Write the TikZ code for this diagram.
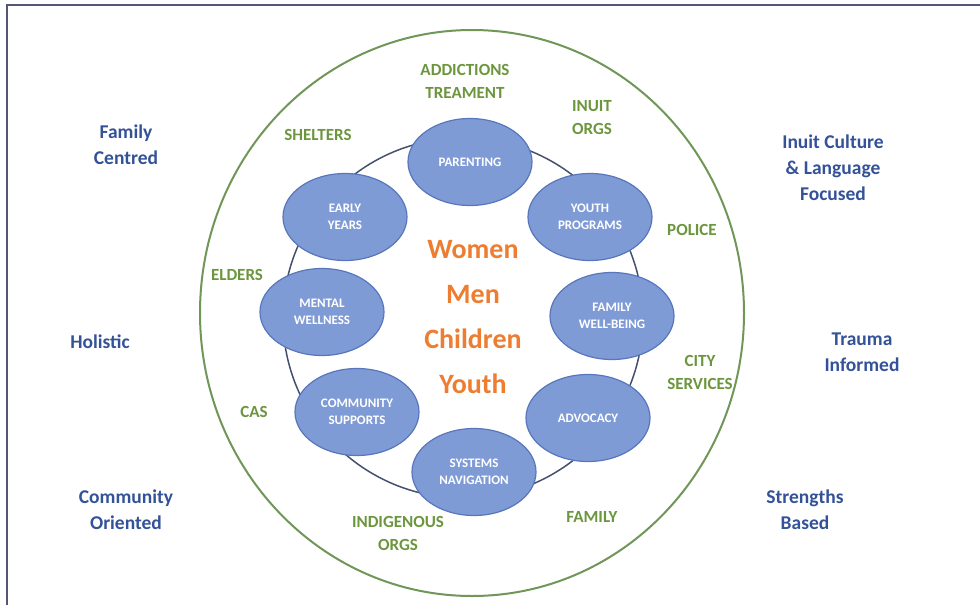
\documentclass[tikz,border=0pt]{standalone}
\usepackage{fontspec}
\setmainfont{Carlito}
\usetikzlibrary{shapes.geometric}
\definecolor{framecol}{RGB}{85,85,120}
\definecolor{partnergreen}{RGB}{108,150,62}
\definecolor{ringgreen}{RGB}{112,150,88}
\definecolor{ringblue}{RGB}{68,80,110}
\definecolor{ovalfill}{RGB}{127,155,214}
\definecolor{ovaledge}{RGB}{88,118,188}
\definecolor{valueblue}{RGB}{52,82,152}
\definecolor{peopleorange}{RGB}{237,125,49}
\begin{document}
\begin{tikzpicture}[x=1pt,y=-1pt,
  service/.style={ellipse, draw=ovaledge, line width=1.2pt, fill=ovalfill,
    minimum width=124pt, minimum height=87pt, inner sep=0pt, align=center,
    text=white, font=\bfseries\fontsize{13}{17}\selectfont},
  partner/.style={align=center, text=partnergreen,
    font=\bfseries\fontsize{17}{23}\selectfont},
  value/.style={align=center, text=valueblue,
    font=\bfseries\fontsize{19.5}{26}\selectfont},
  people/.style={align=center, text=peopleorange,
    font=\bfseries\fontsize{28}{45}\selectfont}]
\useasboundingbox (0,0) rectangle (980,605);
\fill[white] (0,0) rectangle (980,605);
% page frame
\draw[framecol, line width=1.6pt] (7,605) -- (7,5) -- (980,5);

% outer ring of partners and inner ring of services
\coordinate (outerc) at (472,313);
\coordinate (innerc) at (463,318);
\draw[ringgreen, line width=2pt] (outerc) ellipse [x radius=272pt, y radius=283pt];
\draw[ringblue, line width=1.5pt] (innerc) circle [radius=180pt];

% services
\node[service] (parenting) at (470,162) {PARENTING};
\node[service] (early)     at (345,217) {EARLY\\YEARS};
\node[service] (youthprog) at (590,217) {YOUTH\\PROGRAMS};
\node[service] (mental)    at (322,312) {MENTAL\\WELLNESS};
\node[service] (familywb)  at (612,316) {FAMILY\\WELL-BEING};
\node[service] (commsup)   at (357,412) {COMMUNITY\\SUPPORTS};
\node[service] (advocacy)  at (588,418) {ADVOCACY};
\node[service] (systems)   at (474,472) {SYSTEMS\\NAVIGATION};

% people served
\node[people] (people) at (473,317) {Women\\Men\\Children\\Youth};

% partners
\node[partner] (addictions) at (465,81)  {ADDICTIONS\\TREAMENT};
\node[partner] (inuitorgs)  at (592,118) {INUIT\\ORGS};
\node[partner] (shelters)   at (318,135) {SHELTERS};
\node[partner] (police)     at (692,230) {POLICE};
\node[partner] (elders)     at (237,275) {ELDERS};
\node[partner] (city)       at (700,372) {CITY\\SERVICES};
\node[partner] (cas)        at (254,412) {CAS};
\node[partner] (family)     at (592,517) {FAMILY};
\node[partner] (indig)      at (398,533) {INDIGENOUS\\ORGS};

% guiding values
\node[value] (famcentred) at (126,145) {Family\\Centred};
\node[value] (holistic)   at (100,342) {Holistic};
\node[value] (community)  at (126,510) {Community\\Oriented};
\node[value] (inuit)      at (833,168) {Inuit Culture\\\& Language\\Focused};
\node[value] (trauma)     at (862,352) {Trauma\\Informed};
\node[value] (strengths)  at (805,510) {Strengths\\Based};
\end{tikzpicture}
\end{document}
